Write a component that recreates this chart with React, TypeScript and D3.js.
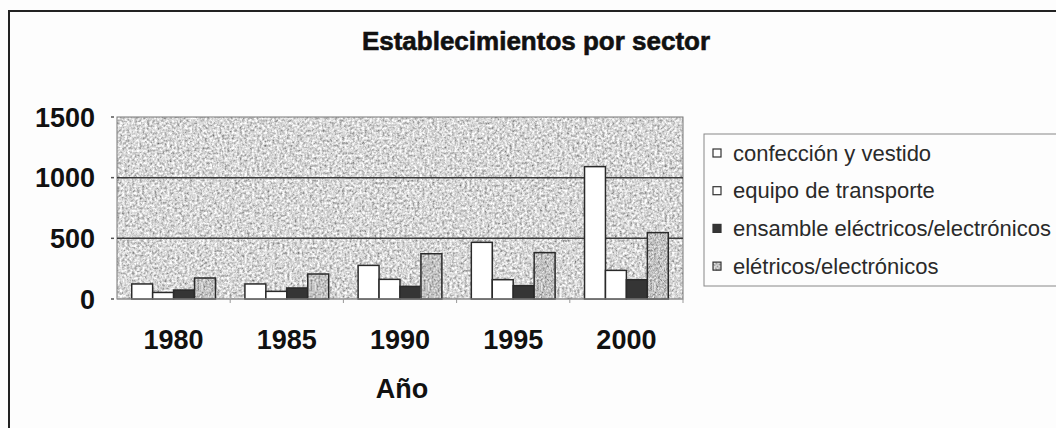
import React from "react";
import * as d3 from "d3";

const years = ["1980", "1985", "1990", "1995", "2000"];
const series = [
  "confección y vestido",
  "equipo de transporte",
  "ensamble eléctricos/electrónicos",
  "elétricos/electrónicos",
];
const confeccion = [124, 124, 277, 467, 1091];
const equipo = [54, 63, 162, 159, 236];
const ensamble = [74, 91, 104, 110, 159];
const electricos = [173, 206, 373, 382, 547];
const yTicks = [0, 500, 1000, 1500];

const values = [confeccion, equipo, ensamble, electricos];
const fills = ["#ffffff", "#ffffff", "#353535", "none"];

const W = 1056;
const H = 428;
const plot = { left: 117, right: 683, top: 117, bottom: 299 };
const font = "'Liberation Sans', Arial, sans-serif";

export default function App() {
  const x0 = d3
    .scaleBand()
    .domain(years)
    .range([plot.left, plot.right])
    .paddingInner(0.26)
    .paddingOuter(0.13);
  const x1 = d3
    .scaleBand()
    .domain(series)
    .range([0, x0.bandwidth()]);
  const y = d3.scaleLinear().domain([0, 1500]).range([plot.bottom, plot.top]);
  const step = x0.step();

  return (
    <svg
      width={W}
      height={H}
      style={{ position: "absolute", left: 0, top: 0, background: "#fdfdfd" }}
    >
      <defs>
        <filter id="speckle" x="0" y="0" width="1" height="1">
          <feTurbulence type="fractalNoise" baseFrequency="0.4" numOctaves="3" seed="4" />
          <feColorMatrix
            type="matrix"
            values="1.3 0 0 0 0.03  1.3 0 0 0 0.03  1.3 0 0 0 0.03  0 0 0 0 1"
          />
        </filter>
        <filter id="speckleDark" x="0" y="0" width="1" height="1">
          <feTurbulence type="fractalNoise" baseFrequency="0.5" numOctaves="2" seed="9" />
          <feColorMatrix
            type="matrix"
            values="1.1 0 0 0 -0.01  1.1 0 0 0 -0.01  1.1 0 0 0 -0.01  0 0 0 0 1"
          />
        </filter>
      </defs>

      {/* chart border */}
      <rect x={9} y={11} width={1060} height={430} fill="#fdfdfd" stroke="#222" strokeWidth={2} />

      <text
        x={536}
        y={50}
        textAnchor="middle"
        fontFamily={font}
        fontWeight="bold"
        fontSize={26}
        fill="#111"
        stroke="#111"
        strokeWidth={0.6}
      >
        Establecimientos por sector
      </text>

      {/* plot area */}
      <rect
        x={plot.left}
        y={plot.top}
        width={plot.right - plot.left}
        height={plot.bottom - plot.top}
        filter="url(#speckle)"
      />
      <rect
        x={plot.left}
        y={plot.top}
        width={plot.right - plot.left}
        height={plot.bottom - plot.top}
        fill="none"
        stroke="#777"
        strokeWidth={1}
      />
      {yTicks
        .filter((t) => t > 0 && t < 1500)
        .map((t) => (
          <line
            key={"g" + t}
            x1={plot.left}
            x2={plot.right}
            y1={y(t)}
            y2={y(t)}
            stroke="#3a3a3a"
            strokeWidth={1.5}
          />
        ))}

      {/* bars */}
      {years.map((yr, i) => (
        <g key={yr} transform={`translate(${x0(yr)},0)`}>
          {series.map((s, j) => {
            const v = values[j][i];
            const bx = x1(s)!;
            const by = y(v);
            const bh = plot.bottom - by;
            return (
              <g key={s}>
                {j === 3 && (
                  <rect x={bx} y={by} width={x1.bandwidth()} height={bh} filter="url(#speckleDark)" />
                )}
                <rect
                  x={bx}
                  y={by}
                  width={x1.bandwidth()}
                  height={bh}
                  fill={fills[j]}
                  stroke="#2a2a2a"
                  strokeWidth={1.5}
                />
              </g>
            );
          })}
        </g>
      ))}

      {/* x axis */}
      <line x1={plot.left} x2={plot.right} y1={plot.bottom} y2={plot.bottom} stroke="#999" strokeWidth={1} />
      {years.map((yr, i) => (
        <line
          key={"t" + yr}
          x1={plot.left + step * (i + 1)}
          x2={plot.left + step * (i + 1)}
          y1={plot.bottom}
          y2={plot.bottom + 4}
          stroke="#999"
        />
      ))}
      {years.map((yr) => (
        <text
          key={"l" + yr}
          x={x0(yr)! + x0.bandwidth() / 2}
          y={349}
          textAnchor="middle"
          fontFamily={font}
          fontWeight="bold"
          fontSize={27}
          fill="#111"
        >
          {yr}
        </text>
      ))}
      <text
        x={(plot.left + plot.right) / 2 + 2}
        y={398}
        textAnchor="middle"
        fontFamily={font}
        fontWeight="bold"
        fontSize={27}
        fill="#111"
      >
        Año
      </text>

      {/* y axis */}
      {yTicks.map((t) => (
        <g key={"y" + t}>
          <line x1={plot.left - 6} x2={plot.left - 3} y1={y(t)} y2={y(t)} stroke="#555" strokeWidth={1.5} />
          <text
            x={95}
            y={y(t)}
            dy="0.36em"
            textAnchor="end"
            fontFamily={font}
            fontWeight="bold"
            fontSize={27}
            fill="#111"
          >
            {t}
          </text>
        </g>
      ))}

      {/* legend */}
      <rect x={704} y={134} width={370} height={152} fill="#fdfdfd" stroke="#888" strokeWidth={1} />
      {series.map((s, j) => {
        const cy = 153 + j * 37.7;
        return (
          <g key={"lg" + s}>
            {j === 3 && <rect x={713} y={cy - 4} width={8} height={8} filter="url(#speckleDark)" />}
            <rect x={713} y={cy - 4} width={8} height={8} fill={fills[j]} stroke="#333" strokeWidth={1.2} />
            <text x={733} y={cy} dy="0.35em" fontFamily={font} fontSize={22} fill="#2a2a2a">
              {s}
            </text>
          </g>
        );
      })}
    </svg>
  );
}
